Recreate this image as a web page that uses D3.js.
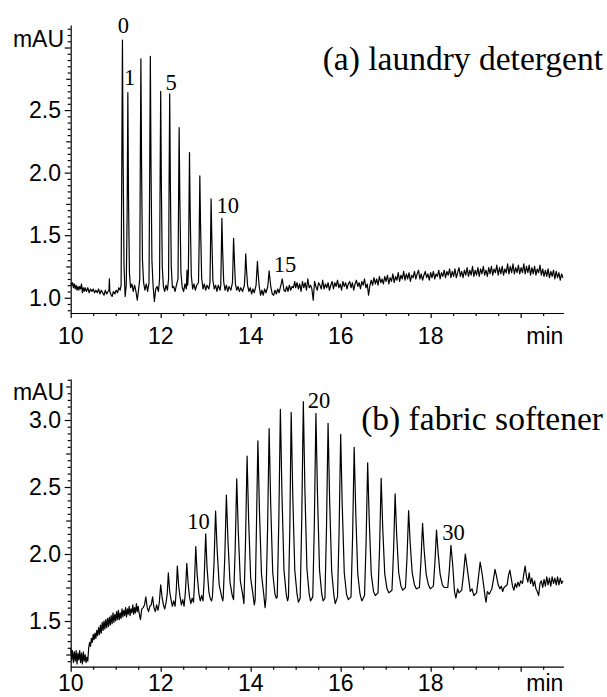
<!DOCTYPE html>
<html><head><meta charset="utf-8">
<script src="https://cdn.jsdelivr.net/npm/d3@7"></script>
<style>body{margin:0;background:#fff}svg{display:block}</style>
</head><body>
<svg id="chart" width="607" height="697"></svg>
<script>
// ---------- data ----------
const xMajorTicks = [10, 12, 14, 16, 18, 20];
const xTickLabels = ["10", "12", "14", "16", "18"];
const xUnit = "min";
const yUnit = "mAU";
const yTicksA = [1.0, 1.5, 2.0, 2.5];
const yTicksB = [1.5, 2.0, 2.5, 3.0];
const titleA = "(a) laundry detergent";
const titleB = "(b) fabric softener";

// peak-number annotations [text, time, signal]
const peakLabelsA = [["0", 11.17, 3.115], ["1", 11.31, 2.70], ["5", 12.23, 2.664], ["10", 13.49, 1.681], ["15", 14.76, 1.205]];
const peakLabelsB = [["10", 12.84, 2.187], ["20", 15.52, 3.09], ["30", 18.51, 2.104]];

// trace (a): [time min, signal mAU]
const traceA_start = [[10.00,1.12],[10.02,1.10],[10.04,1.12],[10.06,1.08],[10.08,1.11],[10.10,1.07],[10.12,1.10],[10.14,1.06],[10.16,1.09],[10.18,1.06],[10.20,1.09],[10.22,1.07],[10.24,1.11],[10.26,1.04],[10.28,1.08],[10.30,1.05],[10.32,1.08],[10.35,1.05],[10.38,1.08],[10.41,1.04],[10.44,1.07],[10.47,1.05],[10.50,1.07],[10.53,1.04],[10.56,1.06],[10.59,1.04],[10.62,1.07],[10.65,1.03],[10.68,1.06],[10.71,1.04],[10.74,1.02],[10.77,1.06],[10.80,1.03],[10.83,1.05],[10.85,1.06],[10.86,1.15],[10.87,1.05],[10.90,1.02],[10.92,1.01],[10.95,1.05],[10.98,1.03],[11.01,1.06],[11.04,1.04],[11.07,1.08],[11.10,1.06]];
const traceA_peaks = [[11.12,1.10],[11.135,2.0],[11.15,3.06],[11.165,2.1],[11.185,1.25],[11.21,1.01],[11.235,1.1],[11.255,1.7],[11.27,2.64],[11.285,1.8],[11.305,1.2],[11.33,1.08],[11.36,1.11],[11.39,1.05],[11.42,1.10],[11.45,1.05],[11.48,0.98],[11.51,1.07],[11.535,1.15],[11.545,1.95],[11.56,2.91],[11.575,2.05],[11.595,1.3],[11.62,1.12],[11.65,1.06],[11.68,1.11],[11.71,1.05],[11.74,1.12],[11.755,1.95],[11.77,2.93],[11.785,2.05],[11.805,1.3],[11.83,1.10],[11.86,0.97],[11.89,1.07],[11.92,1.09],[11.95,1.05],[11.975,1.15],[11.985,1.8],[12.00,2.65],[12.015,1.9],[12.035,1.25],[12.06,1.09],[12.09,1.05],[12.12,1.10],[12.15,1.06],[12.175,1.15],[12.185,1.8],[12.20,2.63],[12.215,1.9],[12.235,1.25],[12.26,1.08],[12.29,1.09],[12.32,1.05],[12.35,1.10],[12.385,1.15],[12.395,1.65],[12.41,2.36],[12.425,1.8],[12.45,1.2],[12.48,1.08],[12.51,1.05],[12.54,1.11],[12.57,1.07],[12.585,1.22],[12.60,1.10],[12.615,1.2],[12.625,1.55],[12.64,2.16],[12.655,1.7],[12.68,1.18],[12.71,1.07],[12.74,1.11],[12.77,1.06],[12.80,1.10],[12.84,1.12],[12.855,1.45],[12.87,1.975],[12.885,1.6],[12.91,1.16],[12.94,1.07],[12.97,1.11],[13.00,1.06],[13.03,1.10],[13.07,1.07],[13.095,1.12],[13.105,1.35],[13.12,1.79],[13.135,1.5],[13.16,1.14],[13.19,1.07],[13.22,1.10],[13.25,1.05],[13.28,1.10],[13.32,1.06],[13.335,1.1],[13.345,1.3],[13.36,1.635],[13.375,1.4],[13.40,1.13],[13.43,1.06],[13.46,1.10],[13.49,1.05],[13.52,1.09],[13.56,1.06],[13.595,1.12],[13.605,1.25],[13.62,1.475],[13.635,1.33],[13.66,1.11],[13.69,1.06],[13.72,1.09],[13.75,1.05],[13.78,1.08],[13.82,1.05],[13.86,1.1],[13.875,1.2],[13.89,1.35],[13.905,1.24],[13.93,1.10],[13.96,1.05],[13.99,1.08],[14.02,1.03],[14.05,1.07],[14.08,1.04],[14.12,1.1],[14.135,1.2],[14.15,1.29],[14.165,1.2],[14.19,1.09],[14.22,1.02],[14.25,1.06],[14.28,1.02],[14.31,1.07],[14.34,1.04],[14.38,1.09],[14.395,1.15],[14.41,1.215],[14.425,1.16],[14.45,1.08],[14.48,1.03],[14.51,1.02],[14.54,1.06],[14.57,1.03],[14.60,1.07],[14.63,1.04],[14.665,1.09],[14.685,1.12],[14.70,1.15],[14.715,1.12],[14.74,1.06],[14.77,1.05],[14.80,1.09],[14.83,1.05],[14.86,1.10],[14.89,1.06],[14.92,1.09],[14.95,1.08],[14.98,1.13],[15.00,1.08]];
const traceA_tail = [[15.03,1.12],[15.06,1.07],[15.09,1.11],[15.12,1.05],[15.15,1.13],[15.18,1.08],[15.21,1.12],[15.24,1.06],[15.27,1.15],[15.30,1.08],[15.33,1.10],[15.36,1.07],[15.39,0.98],[15.42,1.13],[15.45,1.09],[15.48,1.06],[15.51,1.12],[15.54,1.10],[15.57,1.07],[15.60,1.14],[15.63,1.07],[15.66,1.11],[15.69,1.08],[15.72,1.12],[15.75,1.06],[15.78,1.10],[15.81,1.13],[15.84,1.07],[15.87,1.12],[15.90,1.09],[15.93,1.14],[15.96,1.08],[15.99,1.11],[16.02,1.06],[16.05,1.13],[16.08,1.09],[16.11,1.12],[16.14,1.07],[16.17,1.11],[16.20,1.13],[16.23,1.08],[16.26,1.12],[16.29,1.06],[16.32,1.11],[16.35,1.14],[16.38,1.09],[16.41,1.12],[16.44,1.07],[16.47,1.13],[16.50,1.10],[16.53,1.15],[16.56,1.08],[16.59,1.11],[16.62,1.02],[16.65,1.10],[16.68,1.14],[16.71,1.10],[16.74,1.16],[16.77,1.11],[16.80,1.15],[16.83,1.10],[16.86,1.17],[16.89,1.12],[16.92,1.15],[16.95,1.11],[16.98,1.17],[17.01,1.13],[17.04,1.18],[17.07,1.11],[17.10,1.16],[17.13,1.13],[17.16,1.19],[17.19,1.12],[17.22,1.17],[17.25,1.14],[17.28,1.20],[17.31,1.13],[17.34,1.18],[17.37,1.15],[17.40,1.21],[17.43,1.14],[17.46,1.19],[17.49,1.15],[17.52,1.20],[17.55,1.13],[17.58,1.18],[17.61,1.16],[17.64,1.21],[17.67,1.15],[17.70,1.19],[17.73,1.22],[17.76,1.15],[17.79,1.19],[17.82,1.14],[17.85,1.18],[17.88,1.21],[17.91,1.16],[17.94,1.19],[17.97,1.14],[18.00,1.20],[18.03,1.16],[18.06,1.21],[18.09,1.15],[18.12,1.19],[18.15,1.17],[18.18,1.22],[18.21,1.15],[18.24,1.20],[18.27,1.17],[18.30,1.22],[18.33,1.16],[18.36,1.21],[18.39,1.18],[18.42,1.23],[18.45,1.16],[18.48,1.21],[18.51,1.17],[18.54,1.23],[18.57,1.16],[18.60,1.20],[18.63,1.24],[18.66,1.17],[18.69,1.21],[18.72,1.16],[18.75,1.22],[18.78,1.18],[18.81,1.24],[18.84,1.17],[18.87,1.22],[18.90,1.18],[18.93,1.25],[18.96,1.17],[18.99,1.22],[19.02,1.18],[19.05,1.24],[19.08,1.17],[19.11,1.23],[19.14,1.19],[19.17,1.25],[19.20,1.18],[19.23,1.22],[19.26,1.17],[19.29,1.24],[19.32,1.19],[19.35,1.25],[19.38,1.18],[19.41,1.23],[19.44,1.20],[19.47,1.26],[19.50,1.18],[19.53,1.24],[19.56,1.19],[19.59,1.25],[19.62,1.18],[19.65,1.23],[19.68,1.20],[19.71,1.27],[19.74,1.19],[19.77,1.25],[19.80,1.20],[19.83,1.27],[19.86,1.19],[19.89,1.24],[19.92,1.20],[19.95,1.26],[19.98,1.19],[20.01,1.24],[20.04,1.20],[20.07,1.27],[20.10,1.19],[20.13,1.25],[20.16,1.20],[20.19,1.26],[20.22,1.18],[20.25,1.24],[20.28,1.19],[20.31,1.25],[20.34,1.18],[20.37,1.23],[20.40,1.20],[20.43,1.26],[20.46,1.18],[20.49,1.23],[20.52,1.17],[20.55,1.22],[20.58,1.17],[20.61,1.23],[20.64,1.16],[20.67,1.21],[20.70,1.17],[20.73,1.22],[20.76,1.15],[20.79,1.21],[20.82,1.16],[20.85,1.20],[20.88,1.14],[20.91,1.19],[20.94,1.16]];

// trace (b): [time min, signal mAU]
const traceB_start = [[10.00,1.30],[10.02,1.21],[10.04,1.28],[10.06,1.19],[10.08,1.27],[10.10,1.20],[10.12,1.28],[10.14,1.18],[10.16,1.26],[10.18,1.21],[10.20,1.28],[10.22,1.19],[10.24,1.26],[10.26,1.18],[10.28,1.27],[10.30,1.20],[10.32,1.25],[10.34,1.19],[10.36,1.23],[10.38,1.20],[10.40,1.30],[10.42,1.34],[10.44,1.31],[10.46,1.37],[10.48,1.34],[10.50,1.40],[10.52,1.36],[10.54,1.41],[10.56,1.37],[10.58,1.43],[10.60,1.39],[10.62,1.45],[10.64,1.40],[10.66,1.47],[10.68,1.41],[10.70,1.49],[10.72,1.43],[10.74,1.50],[10.76,1.44],[10.78,1.51],[10.80,1.45],[10.82,1.52],[10.84,1.46],[10.86,1.53],[10.88,1.47],[10.90,1.54],[10.92,1.48],[10.94,1.56],[10.96,1.49],[10.98,1.55],[11.00,1.50],[11.02,1.57],[11.04,1.51],[11.06,1.58],[11.08,1.51],[11.10,1.56],[11.12,1.52],[11.14,1.59],[11.16,1.53],[11.18,1.58],[11.20,1.54],[11.22,1.60],[11.24,1.53],[11.26,1.59],[11.28,1.55],[11.30,1.61],[11.32,1.54],[11.34,1.59],[11.36,1.56],[11.38,1.62],[11.40,1.55],[11.42,1.60],[11.44,1.56],[11.46,1.63],[11.48,1.57],[11.50,1.61],[11.52,1.56],[11.55,1.51],[11.58,1.59],[11.61,1.60],[11.64,1.62]];
const traceB_small = [[11.67,1.68],[11.70,1.60],[11.73,1.57],[11.76,1.61],[11.79,1.62],[11.82,1.68],[11.85,1.60],[11.88,1.57],[11.91,1.62],[11.94,1.58],[11.97,1.64],[12.00,1.77],[12.03,1.68],[12.06,1.62],[12.09,1.59],[12.12,1.64],[12.145,1.70],[12.17,1.86],[12.20,1.72],[12.23,1.66],[12.26,1.61],[12.29,1.65],[12.32,1.61],[12.345,1.72],[12.37,1.91],[12.40,1.76],[12.43,1.68],[12.46,1.62],[12.49,1.66],[12.52,1.61],[12.55,1.72],[12.58,1.93],[12.61,1.78],[12.64,1.68],[12.67,1.63],[12.70,1.67],[12.73,1.64],[12.75,1.78],[12.78,2.055],[12.81,1.85],[12.85,1.70],[12.88,1.65],[12.91,1.69],[12.94,1.65],[12.965,1.80],[13.00,2.15],[13.03,1.90],[13.07,1.72],[13.10,1.67],[13.13,1.65],[13.15,1.68]];
const traceB_peaks = [[13.185,1.93],[13.22,2.32],[13.255,2.03],[13.30,1.77],[13.35,1.69],[13.38,1.65],[13.39,1.68],[13.425,1.98],[13.46,2.44],[13.495,2.10],[13.54,1.79],[13.59,1.69],[13.62,1.66],[13.655,2.03],[13.69,2.56],[13.725,2.16],[13.77,1.80],[13.82,1.70],[13.85,1.63],[13.885,2.09],[13.92,2.73],[13.955,2.25],[14.00,1.82],[14.05,1.70],[14.08,1.62],[14.10,1.66],[14.125,2.14],[14.16,2.845],[14.195,2.32],[14.24,1.85],[14.29,1.70],[14.32,1.60],[14.34,1.67],[14.375,2.18],[14.41,2.935],[14.445,2.37],[14.49,1.86],[14.54,1.70],[14.57,1.67],[14.59,1.68],[14.625,2.24],[14.66,3.08],[14.695,2.45],[14.74,1.88],[14.79,1.70],[14.82,1.65],[14.84,1.68],[14.87,2.2],[14.90,3.057],[14.935,2.44],[14.98,1.88],[15.03,1.70],[15.06,1.64],[15.10,1.67],[15.135,2.26],[15.17,3.137],[15.205,2.48],[15.25,1.89],[15.30,1.70],[15.33,1.65],[15.38,1.68],[15.415,2.23],[15.45,3.05],[15.485,2.44],[15.53,1.88],[15.58,1.70],[15.61,1.65],[15.65,1.67],[15.685,2.20],[15.72,2.975],[15.755,2.40],[15.80,1.87],[15.85,1.69],[15.88,1.63],[15.93,1.68],[15.965,2.17],[16.00,2.893],[16.035,2.36],[16.08,1.86],[16.13,1.70],[16.17,1.66],[16.23,1.68],[16.265,2.13],[16.30,2.796],[16.335,2.31],[16.38,1.85],[16.43,1.70],[16.47,1.65],[16.53,1.69],[16.565,2.09],[16.60,2.68],[16.635,2.25],[16.68,1.85],[16.73,1.72],[16.77,1.69],[16.83,1.71],[16.865,2.05],[16.90,2.565],[16.935,2.19],[16.98,1.85],[17.03,1.74],[17.07,1.71],[17.14,1.73],[17.175,2.02],[17.21,2.448],[17.245,2.14],[17.29,1.86],[17.34,1.76],[17.38,1.73],[17.44,1.75],[17.475,1.98],[17.51,2.323],[17.545,2.08],[17.59,1.86],[17.64,1.77],[17.68,1.74],[17.75,1.75],[17.785,1.95],[17.82,2.229],[17.855,2.03],[17.90,1.85],[17.95,1.77],[17.99,1.74],[18.06,1.76],[18.095,1.94],[18.13,2.179],[18.165,2.01],[18.21,1.85],[18.26,1.77],[18.30,1.75],[18.38,1.75],[18.415,1.88],[18.45,2.064],[18.485,1.94],[18.53,1.72],[18.56,1.67],[18.60,1.74],[18.63,1.71],[18.69,1.73],[18.73,1.85],[18.77,2.0],[18.81,1.90],[18.85,1.80],[18.88,1.72],[18.92,1.74],[18.96,1.69],[19.02,1.71],[19.06,1.82],[19.10,1.94],[19.14,1.86],[19.18,1.76],[19.21,1.68],[19.23,1.64],[19.26,1.72],[19.30,1.70],[19.36,1.74],[19.40,1.82],[19.43,1.886],[19.46,1.84],[19.50,1.77],[19.54,1.74],[19.57,1.76],[19.60,1.72],[19.63,1.75],[19.70,1.77],[19.73,1.84],[19.76,1.88],[19.79,1.82],[19.82,1.76],[19.85,1.73],[19.88,1.78],[19.91,1.75],[19.94,1.79],[19.97,1.76],[20.00,1.80]];
const traceB_tail = [[20.04,1.78],[20.07,1.85],[20.10,1.91],[20.13,1.83],[20.16,1.79],[20.19,1.86],[20.22,1.78],[20.25,1.82],[20.28,1.76],[20.31,1.80],[20.34,1.74],[20.37,1.72],[20.40,1.69],[20.43,1.78],[20.46,1.80],[20.49,1.75],[20.52,1.81],[20.55,1.76],[20.58,1.83],[20.61,1.77],[20.64,1.82],[20.67,1.76],[20.70,1.83],[20.73,1.78],[20.76,1.82],[20.79,1.77],[20.82,1.83],[20.85,1.77],[20.88,1.82],[20.91,1.78],[20.94,1.80]];

const traceA = traceA_start.concat(traceA_peaks, traceA_tail);
const traceB = traceB_start.concat(traceB_small, traceB_peaks, traceB_tail);

// ---------- drawing ----------
const svg = d3.select("#chart");
const sansFont = "'Liberation Sans', Arial, sans-serif";
const serifFont = "'Liberation Serif', 'Times New Roman', serif";

const x = d3.scaleLinear().domain([10, 20.95]).range([70.7, 563.4]);

function panel(cfg) {
  const y = d3.scaleLinear().domain(cfg.yDomain).range(cfg.yRange);
  const g = svg.append("g");
  const x0 = x.range()[0], yb = cfg.yRange[0];

  // trace
  g.append("path").datum(cfg.trace)
    .attr("fill", "none").attr("stroke", "#000").attr("stroke-width", 1.2)
    .attr("stroke-linejoin", "round")
    .attr("d", d3.line().x(d => x(d[0])).y(d => y(d[1])));

  // x axis: minor then major ticks
  const xMinor = d3.range(10, 21, 0.5).filter(v => v <= x.domain()[1] && !xMajorTicks.includes(v));
  const gxm = g.append("g").attr("transform", `translate(0,${yb})`)
    .call(d3.axisBottom(x).tickValues(xMinor).tickSize(3).tickSizeOuter(0).tickFormat(""));
  gxm.select(".domain").remove();
  g.append("g").attr("transform", `translate(0,${yb})`)
    .call(d3.axisBottom(x).tickValues(xMajorTicks).tickSize(5).tickSizeOuter(0).tickFormat(""));
  // y axis ticks
  const [ylo, yhi] = cfg.yDomain;
  const yMinor = d3.range(Math.ceil(ylo * 20) / 20, yhi, 0.05).map(v => +v.toFixed(2));
  const isMult = (v, s) => Math.abs(v / s - Math.round(v / s)) < 1e-6;
  const gym = g.append("g").attr("transform", `translate(${x0},0)`)
    .call(d3.axisLeft(y).tickValues(yMinor.filter(v => !isMult(v, 0.25))).tickSize(3).tickSizeOuter(0).tickFormat(""));
  gym.select(".domain").remove();
  const gymid = g.append("g").attr("transform", `translate(${x0},0)`)
    .call(d3.axisLeft(y).tickValues(yMinor.filter(v => isMult(v, 0.25) && !isMult(v, 0.5))).tickSize(4.5).tickSizeOuter(0).tickFormat(""));
  gymid.select(".domain").remove();
  g.append("g").attr("transform", `translate(${x0},0)`)
    .call(d3.axisLeft(y).tickValues(yMinor.filter(v => isMult(v, 0.5))).tickSize(6).tickSizeOuter(0).tickFormat(""));
  g.selectAll(".domain, .tick line").attr("stroke", "#000").attr("stroke-width", 1.2);

  // y tick labels
  g.selectAll("text.ylab").data(cfg.yTicks).join("text").attr("class", "ylab")
    .attr("x", 61).attr("y", d => y(d)).attr("dy", "0.36em")
    .attr("text-anchor", "end").attr("font-family", sansFont).attr("font-size", 23)
    .text(d => d.toFixed(1));
  g.append("text").attr("x", 64).attr("y", cfg.unitBaseline)
    .attr("text-anchor", "end").attr("font-family", sansFont).attr("font-size", 23).text(yUnit);

  // x tick labels
  g.selectAll("text.xlab").data(xTickLabels).join("text").attr("class", "xlab")
    .attr("x", d => x(+d)).attr("y", cfg.xLabelBaseline)
    .attr("text-anchor", "middle").attr("font-family", sansFont).attr("font-size", 23)
    .text(d => d);
  g.append("text").attr("x", x.range()[1]).attr("y", cfg.xLabelBaseline)
    .attr("text-anchor", "end").attr("font-family", sansFont).attr("font-size", 23).text(xUnit);

  // title
  g.append("text").attr("x", 603).attr("y", cfg.titleBaseline)
    .attr("text-anchor", "end").attr("font-family", serifFont).attr("font-size", 33.5).text(cfg.title);

  // peak labels
  g.selectAll("text.pk").data(cfg.peakLabels).join("text").attr("class", "pk")
    .attr("x", d => x(d[1])).attr("y", d => y(d[2]))
    .attr("text-anchor", "middle").attr("font-family", serifFont).attr("font-size", 22.5)
    .text(d => d[0]);
}

panel({ trace: traceA, yDomain: [0.878, 3.18], yRange: [313, 25], yTicks: yTicksA,
        unitBaseline: 47, xLabelBaseline: 344, titleBaseline: 70, title: titleA, peakLabels: peakLabelsA });
panel({ trace: traceB, yDomain: [1.159, 3.306], yRange: [666.7, 379], yTicks: yTicksB,
        unitBaseline: 400, xLabelBaseline: 691, titleBaseline: 430, title: titleB, peakLabels: peakLabelsB });
</script>
</body></html>
